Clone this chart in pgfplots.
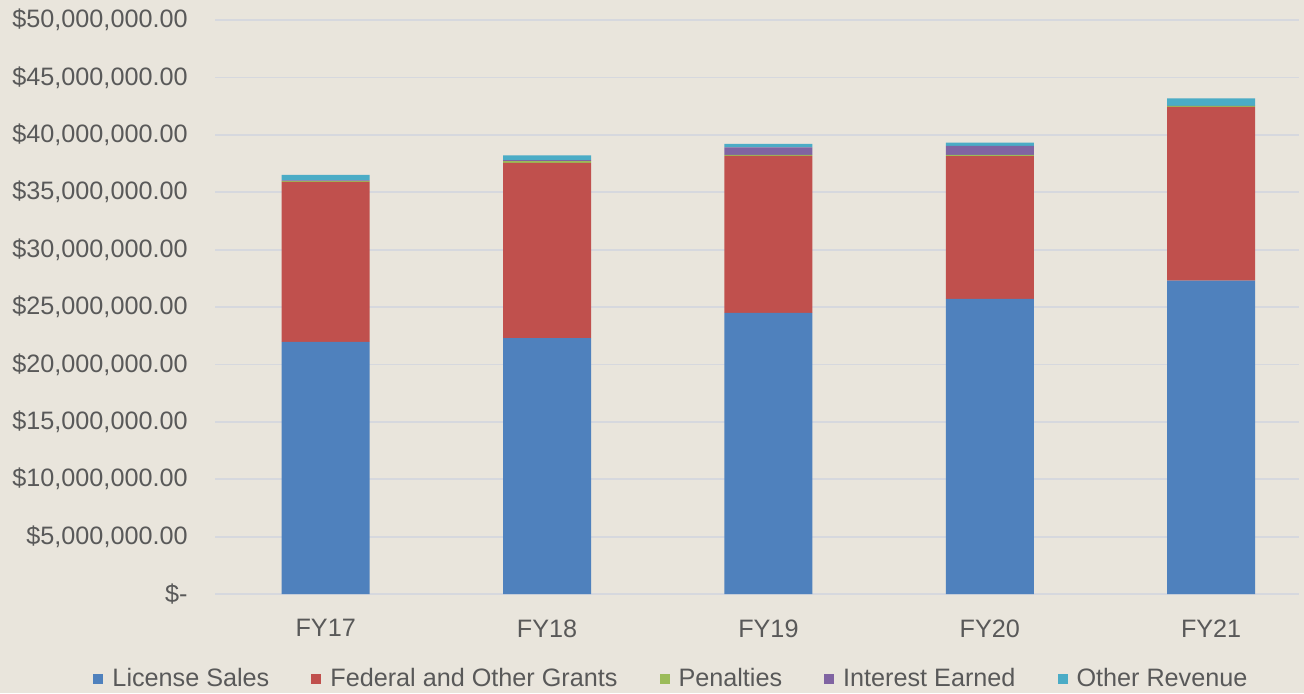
\documentclass[border=0pt]{standalone}
\usepackage{fontspec}
\setmainfont{Liberation Sans}
\usepackage{pgfplots}
\pgfplotsset{compat=1.18}
\definecolor{bg}{RGB}{233,229,220}
\definecolor{gridc}{RGB}{214,216,222}
\definecolor{txt}{RGB}{89,89,89}
\definecolor{cLic}{RGB}{79,129,189}
\definecolor{cFed}{RGB}{192,80,77}
\definecolor{cPen}{RGB}{155,187,89}
\definecolor{cInt}{RGB}{128,100,162}
\definecolor{cOth}{RGB}{75,172,198}
\begin{document}
\begin{tikzpicture}
\fill[bg] (0,0) rectangle (652pt,346.5pt);
\begin{axis}[
  at={(107.5pt,49.5pt)}, anchor=south west,
  scale only axis, width=542pt, height=287pt,
  ybar stacked, bar width=44pt,
  xmin=-0.5, xmax=4.397, ymin=0, ymax=50000000,
  xtick={0,1,2,3,4}, xticklabels={FY17,FY18,FY19,FY20,FY21},
  ytick={0,5000000,10000000,15000000,20000000,25000000,30000000,35000000,40000000,45000000,50000000},
  yticklabels={\$-\hspace{7.5pt},\$5{,}000{,}000.00,\$10{,}000{,}000.00,\$15{,}000{,}000.00,\$20{,}000{,}000.00,\$25{,}000{,}000.00,\$30{,}000{,}000.00,\$35{,}000{,}000.00,\$40{,}000{,}000.00,\$45{,}000{,}000.00,\$50{,}000{,}000.00},
  scaled y ticks=false,
  axis line style={draw=none},
  tick style={draw=none},
  ymajorgrids, grid style={gridc, line width=0.9pt},
  yticklabel style={font=\fontsize{12.6}{15}\selectfont, text=txt, inner sep=0pt, anchor=east, xshift=-13.5pt},
  xticklabel style={font=\fontsize{12.6}{15}\selectfont, text=txt, inner sep=0pt, anchor=north, yshift=-12.5pt},
  legend style={at={(0.422,-0.148)}, anchor=center, draw=none, fill=none,
    font=\fontsize{12.6}{15}\selectfont, text=txt, legend columns=-1,
    /tikz/every odd column/.append style={column sep=2.5pt},
    /tikz/every even column/.append style={column sep=19pt}},
  legend image code/.code={\fill[#1] (0pt,-2.5pt) rectangle (5pt,2.5pt);},
]
\addplot[fill=cLic, draw=none] coordinates {(0,21970000) (1,22300000) (2,24500000) (3,25700000) (4,27290000)};
\addplot[fill=cFed, draw=none] coordinates {(0,13920000) (1,15250000) (2,13660000) (3,12440000) (4,15140000)};
\addplot[fill=cPen, draw=none] coordinates {(0,80000) (1,150000) (2,100000) (3,120000) (4,80000)};
\addplot[fill=cInt, draw=none] coordinates {(0,70000) (1,100000) (2,640000) (3,780000) (4,20000)};
\addplot[fill=cOth, draw=none] coordinates {(0,460000) (1,400000) (2,300000) (3,290000) (4,640000)};
\legend{License Sales, Federal and Other Grants, Penalties, Interest Earned, Other Revenue}
\end{axis}
\pgfresetboundingbox
\path (0,0) rectangle (652pt,346.5pt);
\end{tikzpicture}
\end{document}
